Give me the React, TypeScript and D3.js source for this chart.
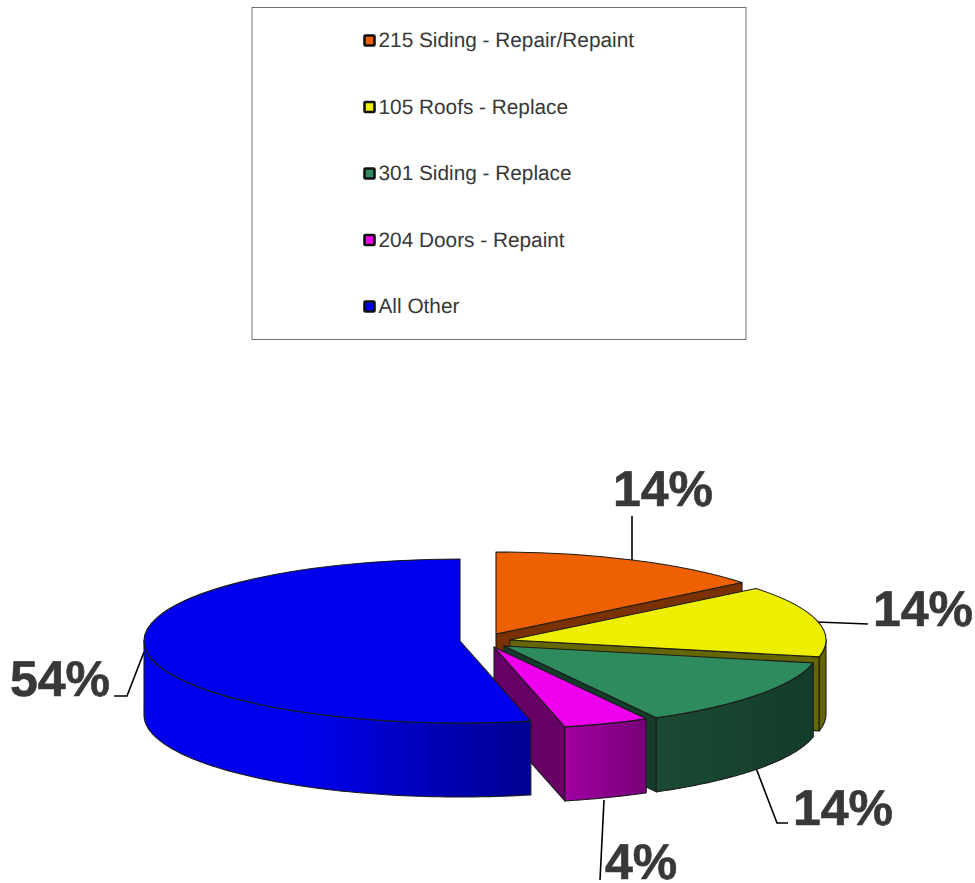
import React from "react";
import * as d3 from "d3";

// Share of work items per category, in percent.
const categories = [
  "215 Siding - Repair/Repaint",
  "105 Roofs - Replace",
  "301 Siding - Replace",
  "204 Doors - Repaint",
  "All Other",
];
const shares = [14.2, 14.1, 13.7, 4.4, 53.6];

const topColors = ["#ee6000", "#eeee00", "#2e8b5e", "#ee00ee", "#0000ee"];
const cutColors = ["#7a3100", "#666600", "#143c2a", "#660066", "#000090"];
const rimStops = [
  ["#7a3100", "#7a3100"],
  ["#666600", "#666600"],
  ["#1a4a33", "#143c2a"],
  ["#a000a0", "#780078"],
  ["#0000ee", "#000090"],
];

// Pie geometry: ellipse radii, wall height and where each exploded slice's tip sits.
const RX = 316;
const RY = 82;
const DEPTH = 74;
const sliceTips: [number, number][] = [
  [496, 634],
  [510, 640],
  [504, 646],
  [494, 647],
  [460, 641],
];
// Painter's order, back to front: the large slice's front edge overlaps the small one.
const drawOrder = [0, 1, 2, 3, 4];

// Where each percentage label and its leader go.
const labelSpots: { x: number; y: number; leader: [number, number][] }[] = [
  { x: 613, y: 505.5, leader: [[632, 516], [632, 563]] },
  { x: 873, y: 626, leader: [[817, 622], [868, 624]] },
  { x: 793, y: 824.5, leader: [[756, 768], [777, 823], [788, 823]] },
  { x: 605, y: 879, leader: [[604, 800], [600, 880]] },
  { x: 10, y: 696, leader: [[144, 652], [127, 696], [114, 696]] },
];

const TEXT = "#383838";
const EDGE = "#1c1c1c";
const FONT = "'Liberation Sans', Arial, sans-serif";

const pieAngles = d3.pie<number>().sort(null).value((d) => d)(shares);
const percent = d3.format(".0%");
const legendY = d3.scalePoint<string>().domain(categories).range([40.5, 306.5]);
const topArc = d3.arc<d3.PieArcDatum<number>>().innerRadius(0).outerRadius(RX);
const edgeLine = d3.line();

const onRim = (tip: [number, number], a: number, drop = 0): [number, number] => [
  tip[0] + RX * Math.sin(a),
  tip[1] - RY * Math.cos(a) + drop,
];

// Outer wall: only the part of the rim that faces the viewer (90 to 270 degrees).
function rimWall(tip: [number, number], a0: number, a1: number): string | null {
  const from = Math.max(a0, Math.PI / 2);
  const to = Math.min(a1, (3 * Math.PI) / 2);
  if (to <= from) return null;
  const angles = d3.range(0, 81).map((i) => from + ((to - from) * i) / 80);
  const upper = angles.map((a) => onRim(tip, a));
  const lower = angles.slice().reverse().map((a) => onRim(tip, a, DEPTH));
  return edgeLine([...upper, ...lower]) + "Z";
}

// Radial cut wall, shown only when its normal points towards the viewer.
function cutWall(tip: [number, number], a: number): string {
  const rim = onRim(tip, a);
  return (
    edgeLine([
      tip,
      rim,
      [rim[0], rim[1] + DEPTH],
      [tip[0], tip[1] + DEPTH],
    ]) + "Z"
  );
}

export default function App() {
  return (
    <svg
      width={975}
      height={883}
      viewBox="0 0 975 883"
      style={{ position: "absolute", left: 0, top: 0, display: "block", background: "#fff" }}
      fontFamily={FONT}
      textRendering="geometricPrecision"
    >
      <defs>
        {rimStops.map((stops, i) => (
          <linearGradient key={i} id={`rim-${i}`} x1="0" x2="1" y1="0" y2="0">
            <stop offset={i === 4 ? "0.4" : "0"} stopColor={stops[0]} />
            <stop offset="1" stopColor={stops[1]} />
          </linearGradient>
        ))}
      </defs>

      <rect x={252} y={7.5} width={494} height={332} fill="#fff" stroke="#707070" strokeWidth={1} />
      {categories.map((name, i) => {
        const y = legendY(name) as number;
        return (
          <g key={name}>
            <rect x={364.5} y={y - 5} width={10} height={10} rx={1} fill={topColors[i]} stroke="#111" strokeWidth={2.6} />
            <text x={378.5} y={y + 6.5} fontSize={20.8} fill={TEXT}>
              {name}
            </text>
          </g>
        );
      })}

      {labelSpots.map((spot, i) => (
        <path key={i} d={edgeLine(spot.leader) as string} fill="none" stroke="#000" strokeWidth={1.6} />
      ))}

      {drawOrder.map((i) => {
        const slice = pieAngles[i];
        const tip = sliceTips[i];
        const rim = rimWall(tip, slice.startAngle, slice.endAngle);
        const showCut = slice.endAngle < Math.PI * 1.5;
        return (
          <g key={categories[i]} stroke={EDGE} strokeWidth={1.1} strokeLinejoin="round">
            {showCut && <path d={cutWall(tip, slice.endAngle)} fill={cutColors[i]} />}
            {rim && <path d={rim} fill={`url(#rim-${i})`} />}
            <path
              d={topArc(slice) as string}
              transform={`translate(${tip[0]},${tip[1]}) scale(1,${RY / RX})`}
              fill={topColors[i]}
              vectorEffect="non-scaling-stroke"
            />
          </g>
        );
      })}

      {labelSpots.map((spot, i) => (
        <text key={i} x={spot.x} y={spot.y} fontSize={50} fontWeight="bold" fill={TEXT} stroke={TEXT} strokeWidth={0.6}>
          {percent(shares[i] / 100)}
        </text>
      ))}
    </svg>
  );
}
